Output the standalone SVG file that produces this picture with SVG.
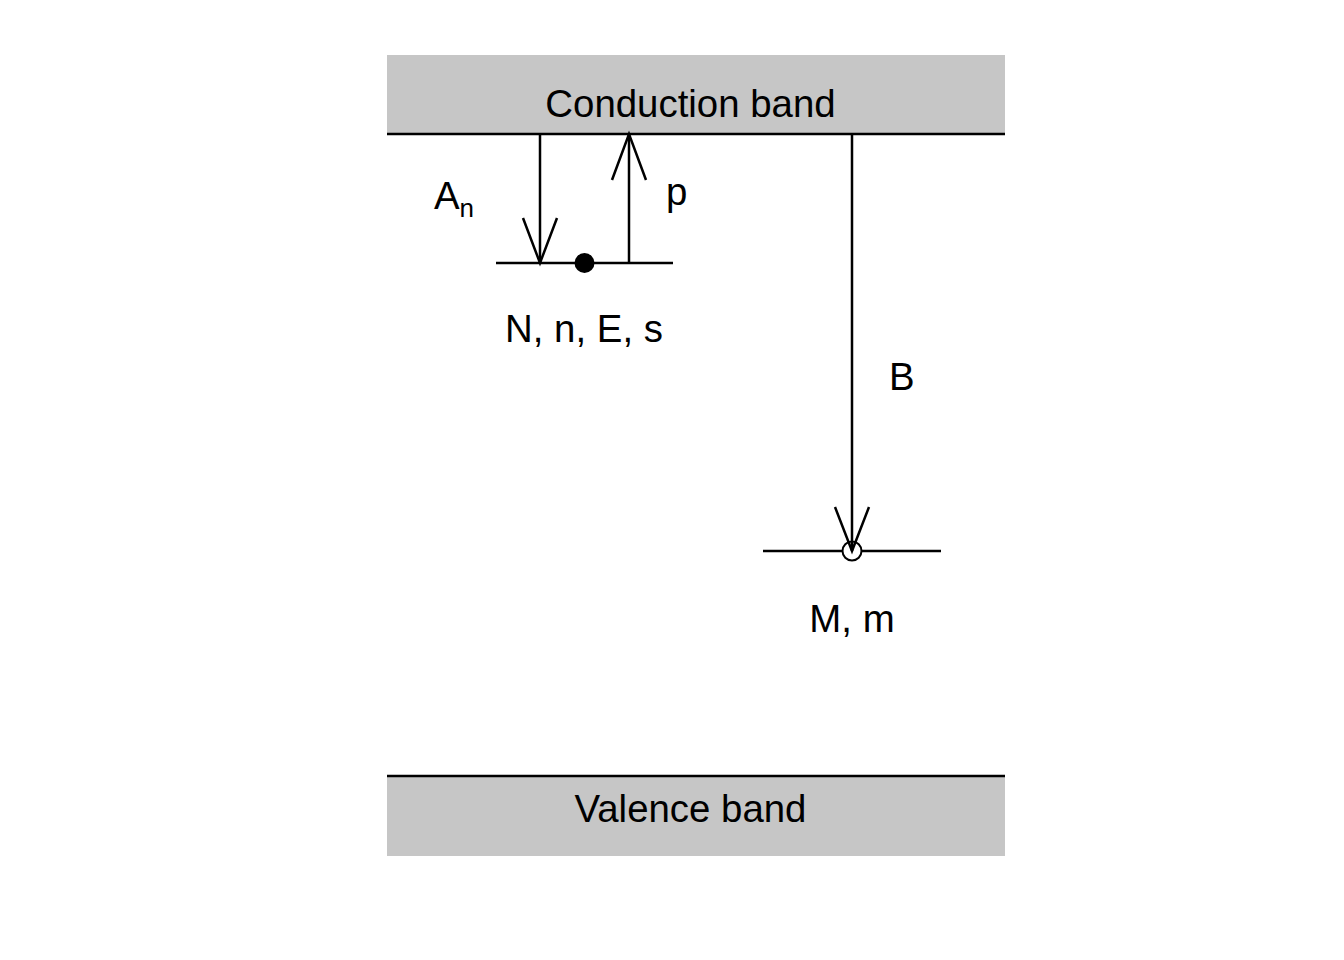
<svg xmlns="http://www.w3.org/2000/svg" width="1344" height="960" viewBox="0 0 1344 960">
<style>
.band{fill:#c6c6c6;stroke:none}
.ln{stroke:#000;stroke-width:2.5;fill:none}
.t{font-family:"Liberation Sans",Arial,sans-serif;font-size:38.4px;fill:#000}
.c{text-anchor:middle}
</style>
<rect width="1344" height="960" fill="#fff"/>
<g id="conduction">
<rect class="band" x="387" y="55" width="618" height="79"/>
<line class="ln" x1="387" y1="134" x2="1005" y2="134"/>
<text class="t c" x="690.5" y="117">Conduction band</text>
</g>
<g id="valence">
<rect class="band" x="387" y="776" width="618" height="80"/>
<line class="ln" x1="387" y1="776" x2="1005" y2="776"/>
<text class="t c" x="690.5" y="822">Valence band</text>
</g>
<g id="trapN">
<line class="ln" x1="496" y1="263" x2="673" y2="263"/>
<circle cx="584.5" cy="263" r="10" fill="#000"/>
<text class="t c" x="584" y="342">N, n, E, s</text>
</g>
<g id="centerM">
<line class="ln" x1="763" y1="551" x2="941" y2="551"/>
<circle cx="852" cy="551" r="9.5" fill="#fff" stroke="#000" stroke-width="2"/>
<text class="t c" x="852" y="632">M, m</text>
</g>
<g id="connectors">
<g id="arrowAn">
<line class="ln" x1="540" y1="134" x2="540" y2="263"/>
<polyline class="ln" points="523,218 540,263 557,218"/>
<text class="t" x="434" y="209">A<tspan font-size="26" dy="8">n</tspan></text>
</g>
<g id="arrowP">
<line class="ln" x1="629" y1="263" x2="629" y2="134"/>
<polyline class="ln" points="612,180 629,134 646,180"/>
<text class="t" x="666" y="205">p</text>
</g>
<g id="arrowB">
<line class="ln" x1="852" y1="134" x2="852" y2="551"/>
<polyline class="ln" points="835,507 852,551 869,507"/>
<text class="t" x="889" y="390">B</text>
</g>
</g>
</svg>
